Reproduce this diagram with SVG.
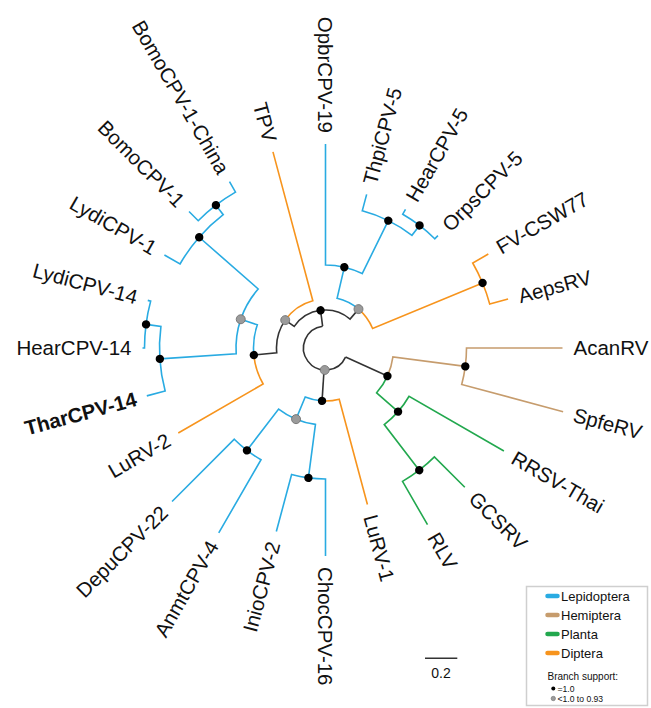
<svg xmlns="http://www.w3.org/2000/svg" width="651" height="708" viewBox="0 0 651 708">
<style>
.b{fill:none;stroke-width:1.6;stroke-linejoin:miter}
.lep{stroke:#29abe2}.hem{stroke:#c69c6d}.pla{stroke:#22a84e}.dip{stroke:#f7941d}.blk{stroke:#333}
.d{fill:#000}.g{fill:#9b9b9b;stroke:#707070;stroke-width:0.8}
.lab{font-family:"Liberation Sans",Arial,sans-serif;font-size:20.5px;fill:#111}
.bold{font-weight:bold}
.leg{font-family:"Liberation Sans",Arial,sans-serif;fill:#111}
.sw{stroke-width:4.5;stroke-linecap:round;fill:none}
</style>
<rect width="651" height="708" fill="#fff"/>
<g id="tree" transform="translate(325.5,348)">
<g id="connectors">
<path class="b blk" transform="rotate(24.375)" d="M22,0A22,22 0 1 1 -11.62,-18.68"/>
<path class="b blk" transform="rotate(24.375)" d="M22,0H68"/>
<path class="b blk" transform="rotate(93.75)" d="M22,0H53"/>
<path class="b blk" transform="rotate(262.5)" d="M22,0H38"/>
<path class="b hem" transform="rotate(0)" d="M139.79,18.40A141,141 0 0 0 141,0H237"/>
<path class="b hem" transform="rotate(15)" d="M139.79,-18.40A141,141 0 0 1 141,0H246"/>
<path class="b hem" transform="rotate(7.5)" d="M65.07,19.74A68,68 0 0 0 68,0H141"/>
<path class="b pla" transform="rotate(30)" d="M94.65,18.83A96.5,96.5 0 0 0 96.5,0H206"/>
<path class="b pla" transform="rotate(45)" d="M152.68,20.10A154,154 0 0 0 154,0H197"/>
<path class="b pla" transform="rotate(60)" d="M152.68,-20.10A154,154 0 0 1 154,0H204"/>
<path class="b pla" transform="rotate(52.5)" d="M94.65,-18.83A96.5,96.5 0 0 1 96.5,0H154"/>
<path class="b pla" transform="rotate(41.25)" d="M65.07,-19.74A68,68 0 0 1 68,0H96.5"/>
<path class="b dip" transform="rotate(75)" d="M50.19,17.04A53,53 0 0 0 53,0H162"/>
<path class="b lep" transform="rotate(112.5)" d="M50.19,-17.04A53,53 0 0 1 53,0H77"/>
<path class="b lep" transform="rotate(90)" d="M129.88,17.10A131,131 0 0 0 131,0H208"/>
<path class="b lep" transform="rotate(105)" d="M129.88,-17.10A131,131 0 0 1 131,0H190"/>
<path class="b lep" transform="rotate(97.5)" d="M74.38,19.93A77,77 0 0 0 77,0H131"/>
<path class="b lep" transform="rotate(127.5)" d="M74.38,-19.93A77,77 0 0 1 77,0H129"/>
<path class="b lep" transform="rotate(120)" d="M127.90,16.84A129,129 0 0 0 129,0H213.5"/>
<path class="b lep" transform="rotate(135)" d="M127.90,-16.84A129,129 0 0 1 129,0H217"/>
<path class="b dip" transform="rotate(150)" d="M65.58,29.72A72,72 0 0 0 72,0H170"/>
<path class="b lep" transform="rotate(198.75)" d="M65.58,-29.72A72,72 0 0 1 72,0H89.5"/>
<path class="b lep" transform="rotate(176.25)" d="M82.69,34.25A89.5,89.5 0 0 0 89.5,0H166"/>
<path class="b lep" transform="rotate(221.25)" d="M82.69,-34.25A89.5,89.5 0 0 1 89.5,0H168"/>
<path class="b lep" transform="rotate(165)" d="M162.81,32.38A166,166 0 0 0 166,0H185"/>
<path class="b lep" transform="rotate(187.5)" d="M162.81,-32.38A166,166 0 0 1 166,0H181"/>
<path class="b lep" transform="rotate(180)" d="M179.45,23.63A181,181 0 0 0 181,0H183"/>
<path class="b lep" transform="rotate(195)" d="M179.45,-23.63A181,181 0 0 1 181,0H184"/>
<path class="b lep" transform="rotate(210)" d="M164.77,32.78A168,168 0 0 0 168,0H186"/>
<path class="b lep" transform="rotate(232.5)" d="M164.77,-32.78A168,168 0 0 1 168,0H180"/>
<path class="b lep" transform="rotate(225)" d="M178.46,23.50A180,180 0 0 0 180,0H193"/>
<path class="b lep" transform="rotate(240)" d="M178.46,-23.50A180,180 0 0 1 180,0H192"/>
<path class="b blk" transform="rotate(174.375)" d="M37.36,31.70A49,49 0 0 0 49,0H72"/>
<path class="b dip" transform="rotate(255)" d="M37.36,-31.70A49,49 0 0 1 49,0H203"/>
<path class="b blk" transform="rotate(214.6875)" d="M25.52,28.16A38,38 0 0 0 38,0H49"/>
<path class="b blk" transform="rotate(310.3125)" d="M25.52,-28.16A38,38 0 0 1 38,0H51"/>
<path class="b lep" transform="rotate(270)" d="M80.83,18.85A83,83 0 0 0 83,0H204"/>
<path class="b lep" transform="rotate(296.25)" d="M80.83,-18.85A83,83 0 0 1 83,0H142"/>
<path class="b lep" transform="rotate(285)" d="M139.27,27.70A142,142 0 0 0 142,0H159"/>
<path class="b lep" transform="rotate(307.5)" d="M139.27,-27.70A142,142 0 0 1 142,0H154.5"/>
<path class="b lep" transform="rotate(300)" d="M153.18,20.17A154.5,154.5 0 0 0 154.5,0H160"/>
<path class="b lep" transform="rotate(315)" d="M153.18,-20.17A154.5,154.5 0 0 1 154.5,0H159"/>
<path class="b lep" transform="rotate(283.125)" d="M45.37,23.30A51,51 0 0 0 51,0H83"/>
<path class="b dip" transform="rotate(337.5)" d="M45.37,-23.30A51,51 0 0 1 51,0H170"/>
<path class="b dip" transform="rotate(330)" d="M168.54,22.19A170,170 0 0 0 170,0H188"/>
<path class="b dip" transform="rotate(345)" d="M168.54,-22.19A170,170 0 0 1 170,0H189"/>
</g>
<g id="internal-nodes">
<g id="n-root"><circle class="g" r="4.5" cx="22" transform="rotate(92)"/></g>
<g id="n-A"><circle class="d" r="4.2" cx="68" transform="rotate(24.375)"/></g>
<g id="n-H"><circle class="d" r="4.2" cx="141" transform="rotate(7.5)"/></g>
<g id="n-P1"><circle class="d" r="4.2" cx="96.5" transform="rotate(41.25)"/></g>
<g id="n-P2"><circle class="d" r="4.2" cx="154" transform="rotate(52.5)"/></g>
<g id="n-B"><circle class="d" r="4.2" cx="53" transform="rotate(93.75)"/></g>
<g id="n-G4"><circle class="g" r="4.5" cx="77" transform="rotate(112.5)"/></g>
<g id="n-N12"><circle class="d" r="4.2" cx="131" transform="rotate(97.5)"/></g>
<g id="n-N13"><circle class="d" r="4.2" cx="129" transform="rotate(127.5)"/></g>
<g id="n-T"><circle class="d" r="4.2" cx="38" transform="rotate(262.5)"/></g>
<g id="n-G1"><circle class="g" r="4.5" cx="49" transform="rotate(214.6875)"/></g>
<g id="n-N3"><circle class="d" r="4.2" cx="72" transform="rotate(174.375)"/></g>
<g id="n-G3"><circle class="g" r="4.5" cx="89.5" transform="rotate(198.75)"/></g>
<g id="n-N4"><circle class="d" r="4.2" cx="166" transform="rotate(176.25)"/></g>
<g id="n-N6"><circle class="d" r="4.2" cx="181" transform="rotate(187.5)"/></g>
<g id="n-N5"><circle class="d" r="4.2" cx="168" transform="rotate(221.25)"/></g>
<g id="n-N7"><circle class="d" r="4.2" cx="180" transform="rotate(232.5)"/></g>
<g id="n-G2"><circle class="g" r="4.5" cx="51" transform="rotate(310.3125)"/></g>
<g id="n-N8"><circle class="d" r="4.2" cx="83" transform="rotate(283.125)"/></g>
<g id="n-N10"><circle class="d" r="4.2" cx="142" transform="rotate(296.25)"/></g>
<g id="n-N11"><circle class="d" r="4.2" cx="154.5" transform="rotate(307.5)"/></g>
<g id="n-N9"><circle class="d" r="4.2" cx="170" transform="rotate(337.5)"/></g>
</g>
<g id="leaves">
<g id="AcanRV"><text class="lab" dy="0.35em" transform="rotate(0) translate(248,0)">AcanRV</text></g>
<g id="SpfeRV"><text class="lab" dy="0.35em" transform="rotate(15) translate(257,0)">SpfeRV</text></g>
<g id="RRSV-Thai"><text class="lab" dy="0.35em" transform="rotate(30) translate(217,0)">RRSV-Thai</text></g>
<g id="GCSRV"><text class="lab" dy="0.35em" transform="rotate(45) translate(208,0)">GCSRV</text></g>
<g id="RLV"><text class="lab" dy="0.35em" transform="rotate(60) translate(215,0)">RLV</text></g>
<g id="LuRV-1"><text class="lab" dy="0.35em" transform="rotate(75) translate(173,0)">LuRV-1</text></g>
<g id="ChocCPV-16"><text class="lab" dy="0.35em" transform="rotate(90) translate(219,0)">ChocCPV-16</text></g>
<g id="InioCPV-2"><text class="lab" dy="0.35em" text-anchor="end" transform="rotate(105) translate(201,0) rotate(180)">InioCPV-2</text></g>
<g id="AnmtCPV-4"><text class="lab" dy="0.35em" text-anchor="end" transform="rotate(120) translate(224.5,0) rotate(180)">AnmtCPV-4</text></g>
<g id="DepuCPV-22"><text class="lab" dy="0.35em" text-anchor="end" transform="rotate(135) translate(228,0) rotate(180)">DepuCPV-22</text></g>
<g id="LuRV-2"><text class="lab" dy="0.35em" text-anchor="end" transform="rotate(150) translate(181,0) rotate(180)">LuRV-2</text></g>
<g id="TharCPV-14"><text class="lab bold" dy="0.35em" text-anchor="end" transform="rotate(165) translate(196,0) rotate(180)">TharCPV-14</text></g>
<g id="HearCPV-14"><text class="lab" dy="0.35em" text-anchor="end" transform="rotate(180) translate(194,0) rotate(180)">HearCPV-14</text></g>
<g id="LydiCPV-14"><text class="lab" dy="0.35em" text-anchor="end" transform="rotate(195) translate(195,0) rotate(180)">LydiCPV-14</text></g>
<g id="LydiCPV-1"><text class="lab" dy="0.35em" text-anchor="end" transform="rotate(210) translate(197,0) rotate(180)">LydiCPV-1</text></g>
<g id="BomoCPV-1"><text class="lab" dy="0.35em" text-anchor="end" transform="rotate(225) translate(204,0) rotate(180)">BomoCPV-1</text></g>
<g id="BomoCPV-1-China"><text class="lab" dy="0.35em" text-anchor="end" transform="rotate(240) translate(203,0) rotate(180)">BomoCPV-1-China</text></g>
<g id="TPV"><text class="lab" dy="0.35em" text-anchor="end" transform="rotate(255) translate(214,0) rotate(180)">TPV</text></g>
<g id="OpbrCPV-19"><text class="lab" dy="0.35em" text-anchor="end" transform="rotate(270) translate(215,0) rotate(180)">OpbrCPV-19</text></g>
<g id="ThpiCPV-5"><text class="lab" dy="0.35em" transform="rotate(285) translate(170,0)">ThpiCPV-5</text></g>
<g id="HearCPV-5"><text class="lab" dy="0.35em" transform="rotate(300) translate(171,0)">HearCPV-5</text></g>
<g id="OrpsCPV-5"><text class="lab" dy="0.35em" transform="rotate(315) translate(170,0)">OrpsCPV-5</text></g>
<g id="FV-CSW77"><text class="lab" dy="0.35em" transform="rotate(330) translate(199,0)">FV-CSW77</text></g>
<g id="AepsRV"><text class="lab" dy="0.35em" transform="rotate(345) translate(200,0)">AepsRV</text></g>
</g>
</g>
<g id="scale-bar">
<line x1="425" y1="658.3" x2="457.3" y2="658.3" stroke="#333" stroke-width="1.6"/>
<text class="leg" x="441" y="678" font-size="14" text-anchor="middle">0.2</text>
</g>
<g id="legend">
<rect x="526.5" y="586.5" width="121" height="119" fill="#fff" stroke="#cfcfcf" stroke-width="1.5"/>
<line class="sw" x1="547.5" y1="596" x2="557.5" y2="596" stroke="#29abe2"/>
<text class="leg" x="561" y="600.6" font-size="13">Lepidoptera</text>
<line class="sw" x1="547.5" y1="615" x2="557.5" y2="615" stroke="#c69c6d"/>
<text class="leg" x="561" y="619.6" font-size="13">Hemiptera</text>
<line class="sw" x1="547.5" y1="634" x2="557.5" y2="634" stroke="#22a84e"/>
<text class="leg" x="561" y="638.6" font-size="13">Planta</text>
<line class="sw" x1="547.5" y1="653" x2="557.5" y2="653" stroke="#f7941d"/>
<text class="leg" x="561" y="657.6" font-size="13">Diptera</text>
<text class="leg" x="547.5" y="679.5" font-size="10">Branch support:</text>
<circle cx="553.3" cy="688.5" r="2" fill="#000"/>
<text class="leg" x="557.5" y="691.5" font-size="8.6">=1.0</text>
<circle cx="553.3" cy="698.5" r="2.2" fill="#9b9b9b" stroke="#707070" stroke-width="0.6"/>
<text class="leg" x="557.5" y="701.5" font-size="8.6">&lt;1.0 to 0.93</text>
</g>
</svg>
